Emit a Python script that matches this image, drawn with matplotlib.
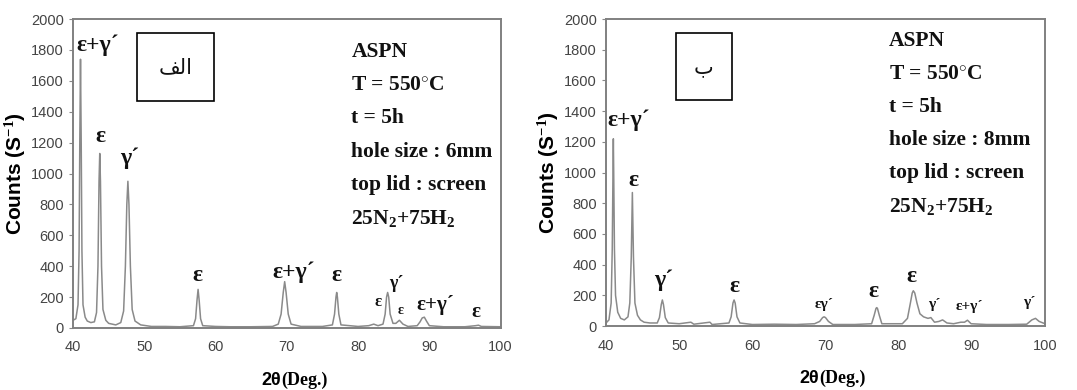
import matplotlib
matplotlib.use("Agg")
import matplotlib.pyplot as plt
from matplotlib.patches import Rectangle

plt.rcParams['mathtext.fontset'] = 'custom'
plt.rcParams['mathtext.rm'] = 'Liberation Serif:bold'
plt.rcParams['mathtext.bf'] = 'Liberation Serif:bold'
plt.rcParams['mathtext.it'] = 'Liberation Serif:bold'

# pattern (a) - hole size 6 mm
x_a = [40.0, 40.4, 40.7, 40.85, 40.95, 41.05, 41.15, 41.25, 41.4, 41.7, 42.0, 42.5, 43.0, 43.3, 43.5,
       43.65, 43.75, 43.85, 44.0, 44.2, 44.6, 45.0, 46.0, 46.7, 47.1, 47.35, 47.55, 47.7, 47.85, 48.05,
       48.3, 48.7, 49.5, 51, 53, 55, 56.9, 57.2, 57.4, 57.55, 57.7, 57.9, 58.2, 60, 62, 65, 68, 68.8,
       69.2, 69.5, 69.7, 69.9, 70.2, 70.6, 72, 75, 76.4, 76.7, 76.9, 77.0, 77.1, 77.3, 77.6, 80, 81.5,
       82.2, 82.8, 83.5, 83.8, 84.0, 84.15, 84.3, 84.5, 84.9, 85.3, 85.8, 86.3, 87, 88.3, 88.7, 89.0,
       89.3, 89.6, 90.0, 92, 95, 96.5, 96.9, 97.3, 100]
y_a = [50, 60, 150, 500, 1200, 1740, 1200, 500, 150, 70, 45, 35, 40, 100, 400,
       950, 1130, 950, 400, 120, 50, 30, 20, 35, 110, 400, 800, 950, 800, 400,
       120, 45, 20, 10, 10, 8, 15, 60, 180, 250, 180, 60, 15, 10, 8, 8, 10, 25,
       90, 230, 300, 230, 90, 25, 10, 10, 20, 90, 200, 230, 200, 90, 20, 10, 15,
       25, 15, 25, 90, 200, 230, 200, 90, 30, 30, 50, 25, 10, 15, 40, 65,
       70, 45, 15, 8, 8, 15, 18, 10, 8]

# pattern (b) - hole size 8 mm
x_b = [40.0, 40.4, 40.7, 40.85, 40.95, 41.0, 41.05, 41.15, 41.3, 41.6, 42.0, 42.5, 43.0, 43.25,
       43.45, 43.6, 43.75, 43.95, 44.3, 44.7, 45.2, 46.0, 47.0, 47.3, 47.55, 47.7, 47.85, 48.1, 48.5,
       50, 51.6, 52, 54.2, 54.5, 56.8, 57.1, 57.35, 57.5, 57.65, 57.9, 58.3, 60, 63, 66, 68.5, 69.2,
       69.6, 69.8, 70.0, 70.4, 71, 74, 76.3, 76.65, 76.9, 77.0, 77.1, 77.35, 77.7, 80.5, 81.2, 81.6,
       81.85, 82.0, 82.2, 82.5, 82.9, 83.4, 84.0, 84.4, 84.9, 85.5, 86.0, 86.6, 87.5, 88.5, 89.0,
       89.4, 89.9, 92, 95, 97.5, 98.2, 98.7, 99.2, 100]
y_b = [20, 40, 150, 500, 1000, 1220, 1000, 500, 200, 90, 50, 40, 60, 150,
       450, 870, 450, 150, 70, 40, 25, 20, 20, 55, 140, 170, 140, 55, 20,
       15, 25, 12, 25, 10, 20, 60, 150, 170, 150, 60, 20, 10, 12, 10, 15, 30,
       55, 60, 55, 30, 10, 10, 15, 70, 115, 120, 115, 70, 15, 15, 50, 150,
       215, 230, 215, 150, 80, 60, 50, 55, 25, 30, 40, 20, 15, 25, 25,
       38, 15, 10, 10, 12, 40, 50, 30, 15]

# peak labels: (x, y, text, size)
labels_a = [(43.4, 1830, "ε+γ´", 17), (43.8, 1240, "ε", 17), (48.0, 1100, "γ´", 17),
            (57.5, 340, "ε", 17), (70.9, 360, "ε+γ´", 17), (76.9, 340, "ε", 17),
            (82.8, 170, "ε", 12), (85.4, 285, "γ´", 13), (86.0, 115, "ε", 10),
            (90.8, 150, "ε+γ´", 15), (96.6, 105, "ε", 15)]
labels_b = [(43.1, 1340, "ε+γ´", 17), (43.8, 950, "ε", 17), (47.9, 300, "γ´", 17),
            (57.5, 255, "ε", 17), (69.8, 140, "εγ´", 11), (76.6, 225, "ε", 17),
            (81.8, 320, "ε", 17), (84.8, 140, "γ´", 11), (89.6, 125, "ε+γ´", 11),
            (97.8, 155, "γ´", 11)]

info_a = ["ASPN", "T = 550$^{\\circ}$C", "t = 5h", "hole size : 6mm", "top lid : screen",
          "25N$_2$+75H$_2$"]
info_b = ["ASPN", "T = 550$^{\\circ}$C", "t = 5h", "hole size : 8mm", "top lid : screen",
          "25N$_2$+75H$_2$"]

xticks = [40, 50, 60, 70, 80, 90, 100]
yticks = [0, 200, 400, 600, 800, 1000, 1200, 1400, 1600, 1800, 2000]

fig = plt.figure(figsize=(10.77, 3.9), dpi=100)
ax_a = fig.add_axes([0.0678, 0.159, 0.397, 0.792])
ax_b = fig.add_axes([0.5627, 0.164, 0.4076, 0.787])

panels = [(ax_a, x_a, y_a, labels_a, info_a, "\ufed2\ufedf\ufe8d", (0.149, 0.735, 0.18, 0.22), 0.651, 0.895),
          (ax_b, x_b, y_b, labels_b, info_b, "\ufe8f", (0.159, 0.735, 0.128, 0.22), 0.645, 0.93)]

for ax, xs, ys, labs, info, tag, box, info_x, info_y in panels:
    ax.plot(xs, ys, color='#8a8a8a', lw=1.1)
    ax.set_xlim(40, 100)
    ax.set_ylim(0, 2000)
    ax.set_xticks(xticks)
    ax.set_yticks(yticks)
    ax.tick_params(labelsize=10.5, labelcolor='#444444', color='#888888', length=3, width=0.8)
    ax.tick_params(axis='x', pad=9, length=0)
    for lab in ax.get_xticklabels() + ax.get_yticklabels():
        lab.set_family('Liberation Sans')
    for s in ax.spines.values():
        s.set_color('#808080')
        s.set_linewidth(1.4)

    for px, py, txt, fs in labs:
        ax.text(px, py, txt, ha='center', va='center', fontsize=fs,
                family='Liberation Serif', fontweight='bold', color='#111111')

    for i, line in enumerate(info):
        ax.text(info_x, info_y - i * 0.108, line, transform=ax.transAxes, ha='left', va='center',
                fontsize=15.5, family='Liberation Serif', fontweight='bold', color='#111111')

    bx, by, bw, bh = box
    ax.add_patch(Rectangle((bx, by), bw, bh, transform=ax.transAxes, fill=False,
                           edgecolor='black', lw=1.2))
    ax.text(bx + bw / 2, by + bh / 2, tag, transform=ax.transAxes, ha='center', va='center',
            fontsize=15, family='DejaVu Sans', color='#111111')

    ax.set_ylabel("Counts (S$^{-1}$)", fontsize=15, family='Liberation Sans', fontweight='bold',
                  labelpad=2)
    ax.text(0.486, -0.17, "2θ", transform=ax.transAxes, ha='right', va='center',
            fontsize=13, family='Liberation Sans', fontweight='bold')
    ax.text(0.486, -0.17, "(Deg.)", transform=ax.transAxes, ha='left', va='center',
            fontsize=13, family='Liberation Serif', fontweight='bold')

fig.savefig("out.png", dpi=100)
